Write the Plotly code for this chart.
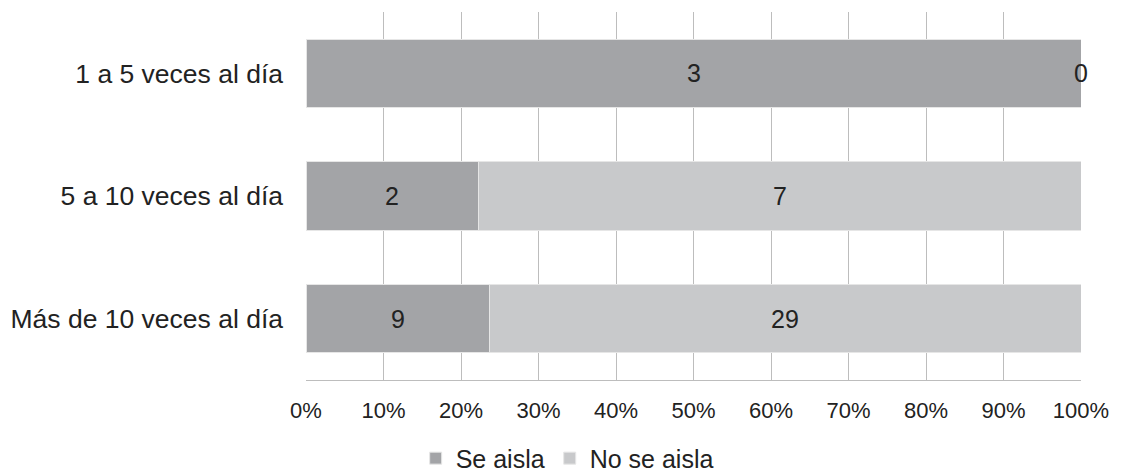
import plotly.graph_objects as go

categories = ["1 a 5 veces al día", "5 a 10 veces al día", "Más de 10 veces al día"]
se_aisla = [3, 2, 9]
no_se_aisla = [0, 7, 29]
x_ticks = [0, 10, 20, 30, 40, 50, 60, 70, 80, 90, 100]

dark = "#a3a4a7"
light = "#c8c9cb"

totals = [a + b for a, b in zip(se_aisla, no_se_aisla)]
pct_se = [a / t * 100 for a, t in zip(se_aisla, totals)]
pct_no = [b / t * 100 for b, t in zip(no_se_aisla, totals)]

fig = go.Figure()
fig.add_trace(go.Bar(y=categories, x=pct_se, name="Se aisla", orientation="h",
                     marker=dict(color=dark, line=dict(color="#e6e6e6", width=1))))
fig.add_trace(go.Bar(y=categories, x=pct_no, name="No se aisla", orientation="h",
                     marker=dict(color=light, line=dict(color="#e6e6e6", width=1))))

# value labels centred on each segment
for cat, ps, pn, a, b in zip(categories, pct_se, pct_no, se_aisla, no_se_aisla):
    fig.add_annotation(x=ps / 2, y=cat, text=str(a), showarrow=False,
                       font=dict(size=25, color="#222222"))
    fig.add_annotation(x=ps + pn / 2, y=cat, text=str(b), showarrow=False,
                       font=dict(size=25, color="#222222"))

fig.update_layout(
    barmode="stack",
    bargap=0.445,
    width=1123, height=472,
    margin=dict(l=306, r=42, t=12, b=92, autoexpand=False),
    paper_bgcolor="white", plot_bgcolor="white",
    font=dict(family="Liberation Sans, Arial, sans-serif", size=22, color="#222222"),
    xaxis=dict(range=[0, 100], tickvals=x_ticks, ticktext=[f"{v}%" for v in x_ticks],
               showgrid=True, gridcolor="#bdbdbd", gridwidth=1, zeroline=False,
               showline=True, linecolor="#bdbdbd", linewidth=1, mirror=False,
               ticks="", ticklabelstandoff=11, tickfont=dict(size=22), automargin=False),
    yaxis=dict(categoryorder="array", categoryarray=categories[::-1],
               showgrid=False, zeroline=False, showline=False, ticks="",
               ticklabelstandoff=22, tickfont=dict(size=26.5), automargin=False),
    legend=dict(orientation="h", xref="paper", yref="paper",
                x=0.337, xanchor="center", y=-0.213, yanchor="middle",
                bgcolor="rgba(0,0,0,0)",
                font=dict(size=25), itemwidth=30, traceorder="normal"),
)

fig.write_html("out.html")
